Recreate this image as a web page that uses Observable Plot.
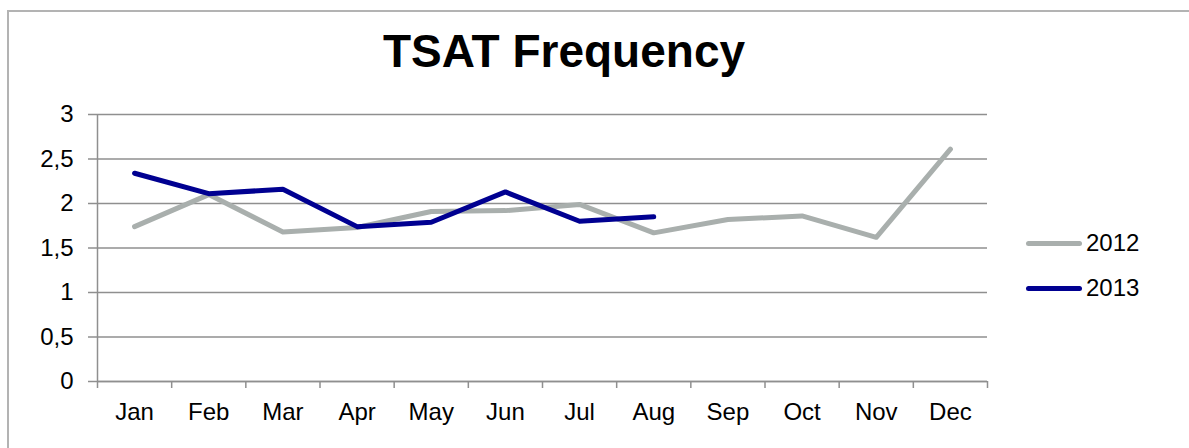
<!DOCTYPE html>
<html>
<head>
<meta charset="utf-8">
<script src="https://cdn.jsdelivr.net/npm/d3@7"></script>
<script src="https://cdn.jsdelivr.net/npm/@observablehq/plot@0.6"></script>
<style>
  html, body { margin: 0; padding: 0; background: #fff; }
  #wrap { position: relative; width: 1189px; height: 448px; overflow: hidden; font-family: "Liberation Sans", Arial, sans-serif; }
  #frame { position: absolute; left: 7px; top: 10px; width: 1200px; height: 460px; border: 2px solid #b3b3b3; box-sizing: border-box; pointer-events: none; }
  #title { position: absolute; left: 0; top: 23px; width: 1128px; text-align: center; font-weight: bold; font-size: 46px; color: #000; line-height: 56px; }
  #legend { position: absolute; left: 1026px; top: 228px; font-size: 24px; color: #000; }
  .item { display: flex; align-items: center; height: 30px; margin-bottom: 15px; }
  .sw { width: 56px; height: 5px; border-radius: 3px; margin-right: 4px; }
  #chart { position: absolute; left: 0; top: 0; }
</style>
</head>
<body>
<div id="wrap">
  <div id="chart"></div>
  <div id="title">TSAT Frequency</div>
  <div id="legend"></div>
  <div id="frame"></div>
</div>
<script>
const months = ["Jan","Feb","Mar","Apr","May","Jun","Jul","Aug","Sep","Oct","Nov","Dec"];
const series = ["2012", "2013"];
const values2012 = [1.74, 2.10, 1.68, 1.73, 1.91, 1.92, 1.99, 1.67, 1.82, 1.86, 1.62, 2.61];
const values2013 = [2.34, 2.11, 2.16, 1.74, 1.79, 2.13, 1.80, 1.85];
const yTicks = [0, 0.5, 1, 1.5, 2, 2.5, 3];
const colors = ["#a9afad", "#000091"];

const data2012 = values2012.map((v, i) => ({i, v}));
const data2013 = values2013.map((v, i) => ({i, v}));
const monthIdx = months.map((m, i) => i);
const bounds = d3.range(-0.5, months.length, 1);

const font = '"Liberation Sans", Arial, sans-serif';

const chart = Plot.plot({
  width: 1189,
  height: 448,
  marginLeft: 97,
  marginRight: 202,
  marginTop: 114,
  marginBottom: 67,
  style: {fontFamily: font, fontSize: "24px", color: "#000", background: "transparent", overflow: "visible"},
  x: {type: "linear", domain: [-0.5, months.length - 0.5]},
  y: {domain: [0, 3]},
  marks: [
    Plot.gridY(yTicks, {stroke: "#8f8f8f", strokeOpacity: 1, strokeWidth: 1.5}),
    Plot.axisY(yTicks, {tickSize: 9, tickPadding: 15, stroke: "#8f8f8f", strokeWidth: 1.5, tickFormat: d => String(d).replace(".", ","), fontSize: 24, label: null}),
    Plot.ruleX([-0.5], {stroke: "#8f8f8f", strokeWidth: 1.5}),
    Plot.ruleY([0], {stroke: "#8f8f8f", strokeWidth: 1.5}),
    Plot.axisX(bounds, {tickSize: 7, stroke: "#8f8f8f", strokeWidth: 1.5, tickFormat: () => "", label: null}),
    Plot.axisX(monthIdx, {tickSize: 0, tickPadding: 21, tickFormat: i => months[i], fontSize: 24, label: null}),
    Plot.line(data2012, {x: "i", y: "v", stroke: colors[0], strokeWidth: 5, strokeLinecap: "round", strokeLinejoin: "round"}),
    Plot.line(data2013, {x: "i", y: "v", stroke: colors[1], strokeWidth: 5, strokeLinecap: "round", strokeLinejoin: "round"})
  ]
});
document.getElementById("chart").appendChild(chart);

const legend = document.getElementById("legend");
series.forEach((s, k) => {
  const item = document.createElement("div");
  item.className = "item";
  const sw = document.createElement("div");
  sw.className = "sw";
  sw.style.background = colors[k];
  const t = document.createElement("span");
  t.textContent = s;
  item.appendChild(sw);
  item.appendChild(t);
  legend.appendChild(item);
});
</script>
</body>
</html>
